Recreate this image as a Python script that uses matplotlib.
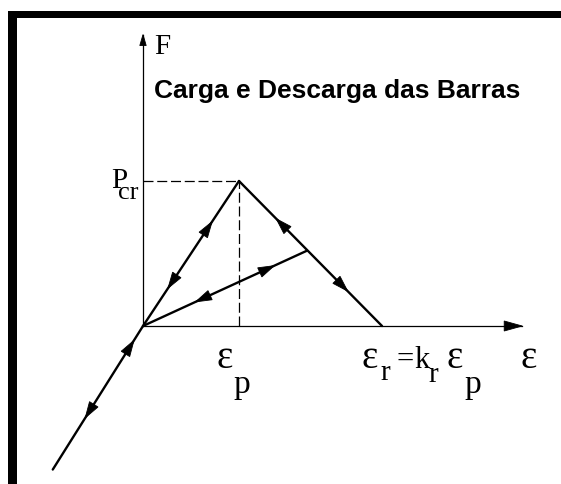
import matplotlib
matplotlib.use("Agg")
import matplotlib.pyplot as plt
from matplotlib.patches import Rectangle, Polygon
import numpy as np

# ---- data (normalised: eps_p = 1, P_cr = 1) ----
eps_p = 1.0
P_cr = 1.0
k_r = 2.49
eps_r = k_r * eps_p
eps_branch = 1.71      # reloading branch meets the descending line
F_branch = 0.52
eps_comp = -0.94       # compression branch end
F_comp = -0.99
eps_axis_max = 3.95
F_axis_max = 2.01

load_eps = [0.0, eps_p]
load_F = [0.0, P_cr]
unload_eps = [eps_p, eps_r]
unload_F = [P_cr, 0.0]
reload_eps = [0.0, eps_branch]
reload_F = [0.0, F_branch]
comp_eps = [0.0, eps_comp]
comp_F = [0.0, F_comp]

title = "Carga e Descarga das Barras"

# ---- figure ----
W, H, DPI = 561, 484, 100
fig = plt.figure(figsize=(W / DPI, H / DPI), dpi=DPI)
fig.patch.set_facecolor("white")

# axes filling the figure; origin at pixel (143, 326), 96 px per eps_p, 145 px per P_cr
ox, oy, sx, sy = 143.0, 326.0, 96.0, 145.0
ax = fig.add_axes([0, 0, 1, 1])
ax.set_xlim(-ox / sx, (W - ox) / sx)
ax.set_ylim(-(H - oy) / sy, oy / sy)
ax.axis("off")

# border bars
def px_rect(x0, y0, x1, y1):
    fig.add_artist(Rectangle((x0 / W, 1 - y1 / H), (x1 - x0) / W, (y1 - y0) / H,
                             transform=fig.transFigure, facecolor="black",
                             edgecolor="none", zorder=10))
px_rect(8.3, 11, W, 17.5)
px_rect(8.3, 11, 16.5, H)

# filled triangular arrowhead drawn in pixel space, tip at data point
def arrowhead(tip, frm, length, half_w):
    T = ax.transData
    p_tip = np.array(T.transform(tip))
    p_frm = np.array(T.transform(frm))
    d = p_tip - p_frm
    d = d / np.hypot(*d)
    n = np.array([-d[1], d[0]])
    base = p_tip - d * length
    tri = [p_tip, base + n * half_w, base - n * half_w]
    fig.add_artist(Polygon(tri, closed=True, transform=None,
                           facecolor="black", edgecolor="black", lw=0.6, zorder=5))

# coordinate axes with arrows
ax.plot([0, eps_axis_max], [0, 0], color="black", lw=0.9)
ax.plot([0, 0], [0, F_axis_max], color="black", lw=0.9)
fig.canvas.draw()
arrowhead((eps_axis_max, 0), (0, 0), 18, 5)
arrowhead((0, F_axis_max), (0, 0), 11, 3.2)

# dashed guides
ax.plot([0, eps_p], [P_cr, P_cr], color="black", lw=0.9, dashes=(8, 3))
ax.plot([eps_p, eps_p], [0, P_cr], color="black", lw=0.9, dashes=(8, 3))

# main branches
for xs, ys in [(load_eps, load_F), (unload_eps, unload_F),
               (reload_eps, reload_F), (comp_eps, comp_F)]:
    ax.plot(xs, ys, color="black", lw=1.7, solid_capstyle="round")

# arrowheads along branches: fraction along segment, direction +1 = start->end
def head(xs, ys, t, direction):
    x0, y0, x1, y1 = xs[0], ys[0], xs[1], ys[1]
    tip = (x0 + t * (x1 - x0), y0 + t * (y1 - y0))
    frm = (x0 + (t - 0.2 * direction) * (x1 - x0), y0 + (t - 0.2 * direction) * (y1 - y0))
    arrowhead(tip, frm, 16, 5)

head(load_eps, load_F, 0.72, +1)
head(load_eps, load_F, 0.26, -1)
head(unload_eps, unload_F, 0.26, -1)
head(unload_eps, unload_F, 0.76, +1)
head(reload_eps, reload_F, 0.80, +1)
head(reload_eps, reload_F, 0.32, -1)
head(comp_eps, comp_F, 0.10, -1)
head(comp_eps, comp_F, 0.64, +1)

# ---- text ----
serif = "Liberation Serif"
def ptext(x, y, s, size, ha="left", va="baseline", **kw):
    fig.text(x / W, 1 - y / H, s, fontsize=size, ha=ha, va=va,
             family=serif, color="black", **kw)

fig.text(154 / W, 1 - 91 / H, title, fontsize=19, fontweight="bold",
         family="Liberation Sans", ha="left", va="center")

ptext(154, 54, "F", 21)
ptext(111, 188, "P", 21)
ptext(118, 199, "cr", 19)

ptext(216, 368, "\u03b5", 28)
ptext(233, 393, "p", 24)

ptext(361, 368, "\u03b5", 28)
ptext(380, 380, "r", 21)
ptext(396, 368, "=", 22)
ptext(414, 368, "k", 22)
ptext(428, 382, "r", 21)
ptext(446, 368, "\u03b5", 28)
ptext(464, 393, "p", 24)

ptext(521, 368, "\u03b5", 28)

fig.savefig("out.png", dpi=DPI, facecolor="white")
